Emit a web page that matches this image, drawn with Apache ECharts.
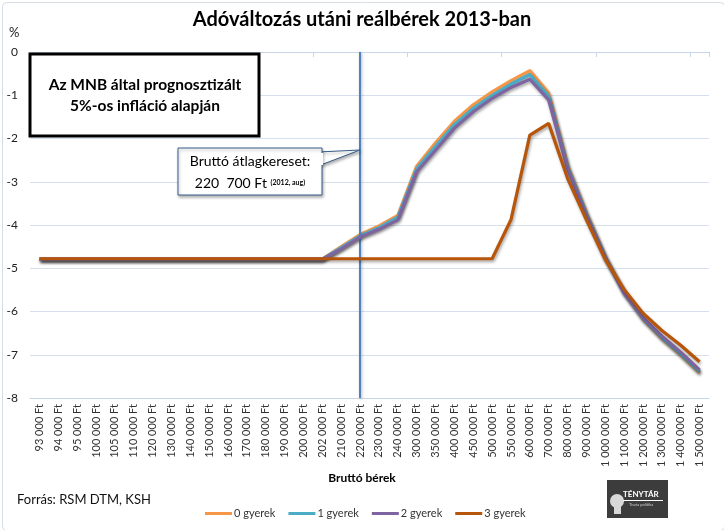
<!DOCTYPE html>
<html><head><meta charset="utf-8">
<script src="https://cdn.jsdelivr.net/npm/echarts@6/dist/echarts.min.js"></script>
<style>html,body{margin:0;padding:0;background:#fff}#c{width:724px;height:530px}</style>
</head><body><div id="c"></div>
<script>
const categories = ['93 000 Ft','94 000 Ft','95 000 Ft','100 000 Ft','105 000 Ft','110 000 Ft','120 000 Ft','130 000 Ft','140 000 Ft','150 000 Ft','160 000 Ft','170 000 Ft','180 000 Ft','190 000 Ft','200 000 Ft','202 000 Ft','210 000 Ft','220 000 Ft','230 000 Ft','240 000 Ft','300 000 Ft','350 000 Ft','400 000 Ft','450 000 Ft','500 000 Ft','550 000 Ft','600 000 Ft','700 000 Ft','800 000 Ft','900 000 Ft','1 000 000 Ft','1 100 000 Ft','1 200 000 Ft','1 300 000 Ft','1 400 000 Ft','1 500 000 Ft'];
const seriesNames = ['0 gyerek','1 gyerek','2 gyerek','3 gyerek'];
const gyerek0 = [-4.79,-4.79,-4.79,-4.79,-4.79,-4.79,-4.79,-4.79,-4.79,-4.79,-4.79,-4.79,-4.79,-4.79,-4.79,-4.79,-4.50,-4.22,-4.02,-3.78,-2.64,-2.10,-1.60,-1.22,-0.92,-0.66,-0.43,-0.95,-2.62,-3.72,-4.72,-5.55,-6.17,-6.62,-7.00,-7.42];
const gyerek1 = [-4.79,-4.79,-4.79,-4.79,-4.79,-4.79,-4.79,-4.79,-4.79,-4.79,-4.79,-4.79,-4.79,-4.79,-4.79,-4.79,-4.52,-4.25,-4.06,-3.82,-2.70,-2.18,-1.68,-1.30,-1.00,-0.74,-0.52,-1.02,-2.66,-3.75,-4.74,-5.57,-6.16,-6.60,-6.98,-7.39];
const gyerek2 = [-4.79,-4.79,-4.79,-4.79,-4.79,-4.79,-4.79,-4.79,-4.79,-4.79,-4.79,-4.79,-4.79,-4.79,-4.79,-4.79,-4.55,-4.28,-4.10,-3.88,-2.77,-2.27,-1.76,-1.38,-1.07,-0.82,-0.63,-1.11,-2.70,-3.78,-4.76,-5.58,-6.14,-6.57,-6.94,-7.35];
const gyerek3 = [-4.78,-4.78,-4.78,-4.78,-4.78,-4.78,-4.78,-4.78,-4.78,-4.78,-4.78,-4.78,-4.78,-4.78,-4.78,-4.78,-4.78,-4.78,-4.78,-4.78,-4.78,-4.78,-4.78,-4.78,-4.78,-3.88,-1.92,-1.65,-2.92,-3.88,-4.80,-5.49,-6.04,-6.44,-6.78,-7.16];
const markerCategory = '220 000 Ft';
const yMin = -8, yMax = 0, yStep = 1;

const colors = ['#f79646','#4bacc6','#8064a2','#b7560b'];
const FONT = 'Lato, "Open Sans", sans-serif';
const chart = echarts.init(document.getElementById('c'), null, {renderer:'canvas'});
const dataSets = [gyerek0, gyerek1, gyerek2, gyerek3];
const series = dataSets.map((d,i)=>({
  name: seriesNames[i], type:'line', data:d, xAxisIndex:1, symbol:'none', z: 3+i,
  lineStyle:{width:3.2,color:colors[i],shadowColor:'rgba(0,0,0,0.35)',shadowBlur:3,shadowOffsetX:1,shadowOffsetY:2},
  itemStyle:{color:colors[i]}
}));
series[0].markLine = {
  silent:true, symbol:'none', label:{show:false},
  lineStyle:{color:'#4f81bd',width:2,type:'solid',shadowColor:'rgba(0,0,0,0.3)',shadowBlur:3,shadowOffsetX:1,shadowOffsetY:1},
  data:[{xAxis: markerCategory}]
};
chart.setOption({
  backgroundColor:'#fff',
  textStyle:{fontFamily:FONT},
  grid:{left:30,right:15,top:52,bottom:132},
  xAxis:[
    {type:'category',data:categories,position:'top',boundaryGap:true,
     axisLine:{show:true,lineStyle:{color:'#c7d6e9',width:1}},
     axisTick:{show:true,inside:true,length:5,lineStyle:{color:'#c7d6e9'}},
     axisLabel:{show:false},splitLine:{show:false}},
    {type:'category',data:categories,position:'bottom',boundaryGap:true,
     axisLine:{show:true,lineStyle:{color:'#c7d6e9',width:1}},
     axisTick:{show:false},
     axisLabel:{rotate:90,fontSize:11,color:'#333',margin:6,interval:0,fontFamily:FONT},
     splitLine:{show:false}}
  ],
  yAxis:{type:'value',min:yMin,max:yMax,interval:yStep,
    axisLine:{show:false},axisTick:{show:false},
    axisLabel:{fontSize:12,color:'#222',margin:12,fontFamily:FONT},
    splitLine:{lineStyle:{color:'#d5e0ee',width:1}}},
  legend:{data:seriesNames,bottom:6,left:200,icon:'rect',itemWidth:27,itemHeight:3,itemGap:13,
    textStyle:{fontSize:11,color:'#333',fontFamily:FONT,padding:[0,0,0,-3]}},
  series:series,
  graphic:[
    {type:'rect',left:0,top:0,shape:{width:722,height:528,r:4},style:{fill:'none',stroke:'#d6dde7',lineWidth:1},z:0,silent:true},
    {type:'text',left:'center',top:10,style:{text:'Adóváltozás utáni reálbérek 2013-ban',font:'bold 20px '+FONT,fill:'#000'}},
    {type:'text',left:9,top:26,style:{text:'%',font:'13px '+FONT,fill:'#222'}},
    {type:'rect',shape:{x:30,y:54,width:229,height:82},style:{fill:'#fff',stroke:'#000',lineWidth:3},z:10},
    {type:'text',x:145,y:95,z:11,style:{text:'Az MNB által prognosztizált\n5%-os infláció alapján',font:'bold 15.5px '+FONT,fill:'#000',align:'center',verticalAlign:'middle',lineHeight:21}},
    {type:'polygon',shape:{points:[[318,152],[360,150],[318,166]]},style:{fill:'#fff',stroke:'#385d8a',lineWidth:1,shadowColor:'rgba(0,0,0,0.3)',shadowBlur:3,shadowOffsetX:1,shadowOffsetY:2},z:10},
    {type:'rect',shape:{x:178,y:148,width:144,height:47},style:{fill:'#fff',stroke:'#385d8a',lineWidth:1,shadowColor:'rgba(0,0,0,0.3)',shadowBlur:3,shadowOffsetX:1,shadowOffsetY:2},z:10},
    {type:'rect',shape:{x:317,y:153,width:6,height:12},style:{fill:'#fff'},z:11},
    {type:'text',x:250,y:172,z:12,style:{text:'Bruttó átlagkereset:\n{a|220  700 Ft }{b|(2012, aug)}',font:'14px '+FONT,fill:'#000',align:'center',verticalAlign:'middle',lineHeight:22,
      rich:{a:{font:'14px '+FONT,fill:'#000'},b:{font:'bold 7px '+FONT,fill:'#000'}}}},
    {type:'text',left:'center',top:472,style:{text:'Bruttó bérek',font:'bold 12px '+FONT,fill:'#000'}},
    {type:'text',left:17,top:493,style:{text:'Forrás: RSM DTM, KSH',font:'13px '+FONT,fill:'#111'}},
    {type:'group',left:607,top:480,children:[
      {type:'rect',shape:{x:0,y:0,width:61,height:38},style:{fill:'#3c3c3c'}},
      {type:'circle',shape:{cx:10,cy:21,r:7},style:{fill:'#d8d8d8'}},
      {type:'rect',shape:{x:7,y:24,width:7,height:10},style:{fill:'#d8d8d8'}},
      {type:'text',x:16,y:10,style:{text:'TÉNYTÁR',font:'bold 8px '+FONT,fill:'#fff'}},
      {type:'rect',shape:{x:16,y:20,width:40,height:1},style:{fill:'#fff'}},
      {type:'text',x:22,y:23,style:{text:'Tiszta politika',font:'4px '+FONT,fill:'#ccc'}}
    ]}
  ]
});
</script></body></html>
